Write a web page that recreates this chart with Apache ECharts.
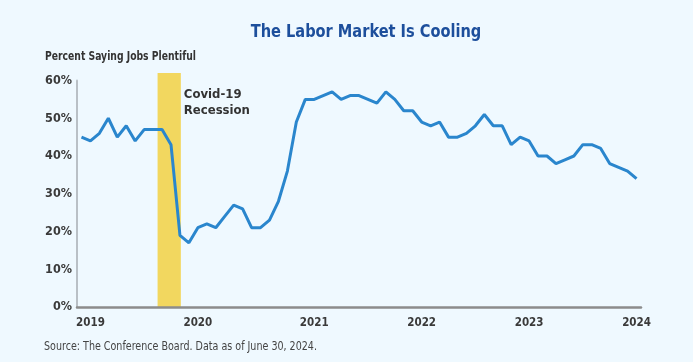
<!DOCTYPE html>
<html>
<head>
<meta charset="utf-8">
<script src="https://cdn.jsdelivr.net/npm/echarts@6/dist/echarts.min.js"></script>
<style>
html,body{margin:0;padding:0;background:#eff9ff;}
#c{width:693px;height:362px;}
</style>
</head>
<body>
<div id="c"></div>
<script>
// Monthly categories, Apr 2019 .. Jun 2024
const months = [
 '2019-04','2019-05','2019-06','2019-07','2019-08','2019-09','2019-10','2019-11','2019-12',
 '2020-01','2020-02','2020-03','2020-04','2020-05','2020-06','2020-07','2020-08','2020-09','2020-10','2020-11','2020-12',
 '2021-01','2021-02','2021-03','2021-04','2021-05','2021-06','2021-07','2021-08','2021-09','2021-10','2021-11','2021-12',
 '2022-01','2022-02','2022-03','2022-04','2022-05','2022-06','2022-07','2022-08','2022-09','2022-10','2022-11','2022-12',
 '2023-01','2023-02','2023-03','2023-04','2023-05','2023-06','2023-07','2023-08','2023-09','2023-10','2023-11','2023-12',
 '2024-01','2024-02','2024-03','2024-04','2024-05','2024-06'
];
// Percent saying jobs plentiful
const jobsPlentiful = [
 45,44,46,50,45,48,44,47,47,47,
 43,19,17,21,22,21,24,27,26,21,
 21,23,28,36,49,55,55,56,57,55,
 56,56,55,54,57,55,52,52,49,48,
 49,45,45,46,48,51,48,48,43,45,
 44,40,40,38,39,40,43,43,42,38,
 37,36,34
];
// Year tick labels and the category index where each is drawn
const yearLabels = ['2019','2020','2021','2022','2023','2024'];
const yearLabelIndex = [1,13,26,38,50,62];
// Recession band (in category index units)
const recessionRange = [8.5, 11.1];
const recessionLabel = 'Covid-19\nRecession';
const yTicks = [0,10,20,30,40,50,60];

const FONT = '"DejaVu Sans Condensed", "DejaVu Sans", sans-serif';
const chart = echarts.init(document.getElementById('c'));
chart.setOption({
  backgroundColor: '#eff9ff',
  animation: false,
  grid: [
    {left: 77, right: 52, top: 80.5, bottom: 55, containLabel: false},
    {left: 77, right: 52, top: 73, bottom: 55, containLabel: false}
  ],
  xAxis: [{
    type: 'category',
    gridIndex: 0,
    data: months,
    boundaryGap: true,
    axisLine: {show: true, lineStyle: {color: '#8c8c8c', width: 2.5}},
    axisTick: {show: false},
    axisLabel: {
      interval: (i) => yearLabelIndex.indexOf(i) >= 0,
      formatter: (v, i) => { const k = yearLabelIndex.indexOf(i); return k >= 0 ? yearLabels[k] : ''; },
      color: '#3a3a3a', fontFamily: FONT, fontWeight: 'bold', fontSize: 11.5, margin: 10
    },
    splitLine: {show: false},
    z: 5
  }, {
    type: 'value', gridIndex: 1, min: -0.5, max: 62.5, show: false
  }],
  yAxis: [{
    type: 'value', gridIndex: 0, min: 0, max: 60, interval: 10,
    axisLine: {show: true, lineStyle: {color: '#b9c0c6', width: 2}},
    axisTick: {show: false},
    splitLine: {show: false},
    axisLabel: {
      formatter: (v) => yTicks.indexOf(v) >= 0 ? v + '%' : '',
      color: '#3a3a3a', fontFamily: FONT, fontWeight: 'bold', fontSize: 12.5, margin: 5
    },
    z: 5
  }, {
    type: 'value', gridIndex: 1, min: 0, max: 1, show: false
  }],
  graphic: [
    {type: 'text', x: 366, y: 32, scaleX: 0.9, style: {text: 'The Labor Market Is Cooling', fill: '#1d4f9c',
      font: 'bold 18px ' + FONT, textAlign: 'center', textVerticalAlign: 'middle'}},
    {type: 'text', x: 45, y: 57, scaleX: 0.79, style: {text: 'Percent Saying Jobs Plentiful', fill: '#333333',
      font: 'bold 13px ' + FONT, textAlign: 'left', textVerticalAlign: 'middle'}},
    {type: 'text', x: 44, y: 347, scaleX: 0.885, style: {text: 'Source: The Conference Board. Data as of June 30, 2024.', fill: '#444444',
      font: '12px ' + FONT, textAlign: 'left', textVerticalAlign: 'middle'}}
  ],
  series: [{
    type: 'line',
    xAxisIndex: 1,
    yAxisIndex: 1,
    data: [[recessionRange[0], 0]],
    symbol: 'none',
    lineStyle: {width: 0},
    silent: true,
    z: 1,
    markArea: {
      silent: true,
      itemStyle: {color: '#f2d75f', opacity: 1},
      label: {show: true, position: ['100%', 0], align: 'left', verticalAlign: 'top', distance: 0,
        offset: [3, 14], color: '#333333', fontFamily: FONT, fontWeight: 'bold', fontSize: 13, lineHeight: 16},
      data: [[{xAxis: recessionRange[0], yAxis: 0, name: recessionLabel}, {xAxis: recessionRange[1], yAxis: 1}]]
    }
  }, {
    type: 'line',
    xAxisIndex: 0,
    yAxisIndex: 0,
    data: jobsPlentiful,
    symbol: 'none',
    z: 3,
    lineStyle: {color: '#2a86cd', width: 3},
    itemStyle: {color: '#2a86cd'}
  }]
});
</script>
</body>
</html>
